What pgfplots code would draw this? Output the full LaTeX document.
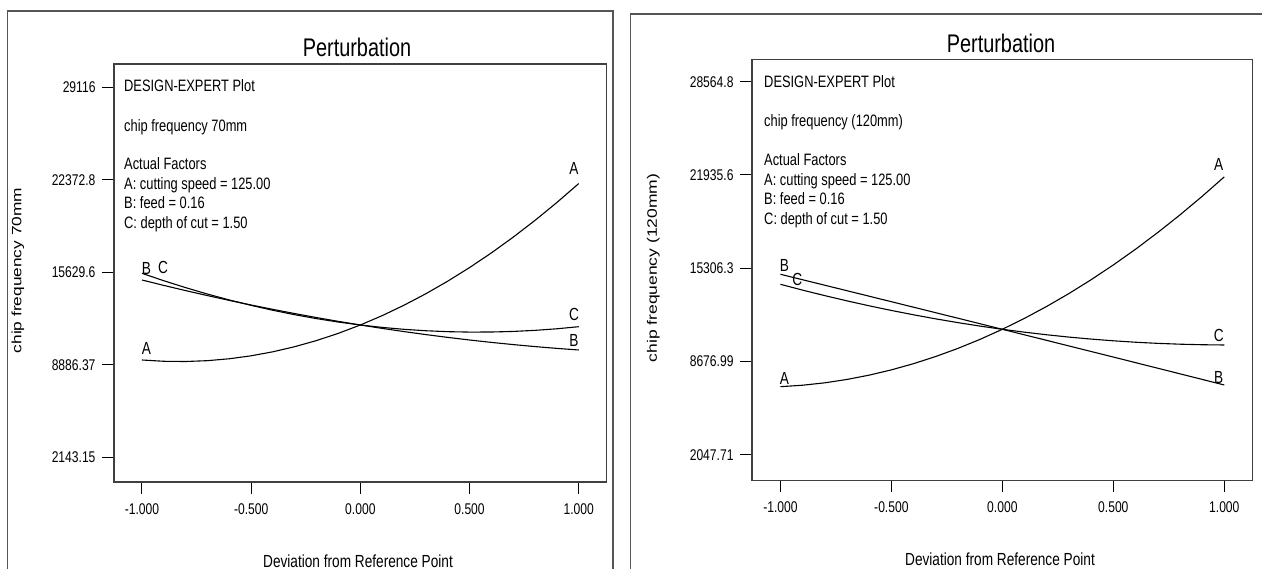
\documentclass[border=0pt]{standalone}
\usepackage{graphicx}
\usepackage{pgfplots}
\pgfplotsset{compat=1.18}
\usepackage{fontspec}
\setmainfont{Liberation Sans}[FakeStretch=0.78]
\newfontfamily\plainfont{Liberation Sans}
\newcommand{\fs}[1]{\fontsize{#1bp}{#1bp}\selectfont}
\definecolor{boxgray}{HTML}{404040}
\definecolor{framegray}{HTML}{555555}

\pgfplotsset{
  pert/.style={
    anchor=south west, scale only axis,
    xmin=-1.128, xmax=1.128,
    axis line style={draw=boxgray, line width=1.4bp},
    tick align=outside, xtick pos=bottom, ytick pos=left,
    major tick length=12bp,
    tick style={black, line width=1bp},
    ticklabel style={font=\fs{15.5}, black},
    yticklabel style={xshift=-3bp},
    xticklabel style={yshift=-6bp},
    xtick={-1,-0.5,0,0.5,1},
    xticklabels={-1.000,-0.500,0.000,0.500,1.000},
    scaled y ticks=false,
    clip=false,
  },
  curve/.style={black, line width=1.1bp, mark=none},
}

\begin{document}
\begin{tikzpicture}
\path[use as bounding box] (0bp,0bp) rectangle (1262bp,569bp);

% ---------- left panel ----------
\begin{axis}[pert, at={(114bp,87bp)}, width=492.7bp, height=418bp,
  ymin=342, ymax=30815,
  ytick={2143.15,8886.37,15629.6,22372.8,29116},
  yticklabels={2143.15,8886.37,15629.6,22372.8,29116}]
\addplot[curve] coordinates {(-1,9236)(-0.9,9142)(-0.8,9126)(-0.7,9187)(-0.6,9326)(-0.5,9542)(-0.4,9836)(-0.3,10208)(-0.2,10657)(-0.1,11184)(0,11788)(0.1,12470)(0.2,13230)(0.3,14067)(0.4,14982)(0.5,15974)(0.6,17044)(0.7,18192)(0.8,19417)(0.9,20720)(1,22100)};
\addplot[curve] coordinates {(-1,15068)(-0.9,14674)(-0.8,14295)(-0.7,13931)(-0.6,13581)(-0.5,13246)(-0.4,12925)(-0.3,12619)(-0.2,12327)(-0.1,12050)(0,11788)(0.1,11540)(0.2,11307)(0.3,11088)(0.4,10884)(0.5,10694)(0.6,10519)(0.7,10359)(0.8,10213)(0.9,10082)(1,9965)};
\addplot[curve] coordinates {(-1,15556)(-0.9,15015)(-0.8,14511)(-0.7,14043)(-0.6,13612)(-0.5,13217)(-0.4,12858)(-0.3,12536)(-0.2,12250)(-0.1,12001)(0,11788)(0.1,11612)(0.2,11472)(0.3,11368)(0.4,11301)(0.5,11271)(0.6,11276)(0.7,11319)(0.8,11397)(0.9,11512)(1,11664)};
\end{axis}

% ---------- right panel ----------
\begin{axis}[pert, at={(752bp,88.7bp)}, width=500.7bp, height=421bp,
  ymin=228, ymax=30157,
  ytick={2047.71,8676.99,15306.3,21935.6,28564.8},
  yticklabels={2047.71,8676.99,15306.3,21935.6,28564.8}]
\addplot[curve] coordinates {(-1,6883)(-0.9,6987)(-0.8,7158)(-0.7,7398)(-0.6,7704)(-0.5,8078)(-0.4,8520)(-0.3,9030)(-0.2,9606)(-0.1,10251)(0,10963)(0.1,11743)(0.2,12590)(0.3,13505)(0.4,14487)(0.5,15537)(0.6,16654)(0.7,17839)(0.8,19092)(0.9,20412)(1,21800)};
\addplot[curve] coordinates {(-1,14873)(-0.9,14484)(-0.8,14095)(-0.7,13705)(-0.6,13315)(-0.5,12924)(-0.4,12533)(-0.3,12141)(-0.2,11749)(-0.1,11356)(0,10963)(0.1,10569)(0.2,10175)(0.3,9780)(0.4,9385)(0.5,8989)(0.6,8593)(0.7,8196)(0.8,7799)(0.9,7401)(1,7003)};
\addplot[curve] coordinates {(-1,14162)(-0.9,13748)(-0.8,13356)(-0.7,12984)(-0.6,12632)(-0.5,12302)(-0.4,11993)(-0.3,11704)(-0.2,11436)(-0.1,11189)(0,10963)(0.1,10758)(0.2,10573)(0.3,10409)(0.4,10267)(0.5,10145)(0.6,10043)(0.7,9963)(0.8,9904)(0.9,9865)(1,9847)};
\end{axis}

% ---------- outer frames ----------
\draw[framegray, line width=1.5bp] (7.3bp,-2bp) -- (7.3bp,558bp) -- (613bp,558bp) -- (613bp,-2bp);
\draw[framegray, line width=1.5bp] (630.7bp,-2bp) -- (630.7bp,555bp) -- (1264bp,555bp);

% ---------- titles and axis labels ----------
\node[font=\fs{25.5}, inner sep=0pt] at (357bp,522bp) {Perturbation};
\node[font=\fs{25.5}, inner sep=0pt] at (1001bp,526bp) {Perturbation};
\node[font=\fs{17.5}, inner sep=0pt] at (358bp,8bp) {Deviation from Reference Point};
\node[font=\fs{17.5}, inner sep=0pt] at (1000bp,10bp) {Deviation from Reference Point};
\node[inner sep=0pt, rotate=90] at (18bp,298.5bp) {\scalebox{1}[0.78]{\plainfont\fs{17.3}chip frequency 70mm}};
\node[inner sep=0pt, rotate=90] at (653.4bp,301bp) {\scalebox{1}[0.78]{\plainfont\fs{17.5}chip frequency (120mm)}};

% ---------- annotation text ----------
\begin{scope}[every node/.style={font=\fs{16.5}, inner sep=0pt, anchor=base west}]
\node at (124bp,477bp) {DESIGN-EXPERT Plot};
\node at (124bp,437.5bp) {chip frequency 70mm};
\node at (124bp,399bp) {Actual Factors};
\node at (124bp,379.4bp) {A: cutting speed = 125.00};
\node at (124bp,360bp) {B: feed = 0.16};
\node at (124bp,340.8bp) {C: depth of cut = 1.50};
\node at (764bp,481.7bp) {DESIGN-EXPERT Plot};
\node at (764bp,442.6bp) {chip frequency (120mm)};
\node at (764bp,403bp) {Actual Factors};
\node at (764bp,383.4bp) {A: cutting speed = 125.00};
\node at (764bp,364bp) {B: feed = 0.16};
\node at (764bp,344bp) {C: depth of cut = 1.50};
\end{scope}

% ---------- curve labels ----------
\begin{scope}[every node/.style={font=\fs{17.5}, inner sep=0pt, anchor=center}]
\node at (574bp,400.5bp) {A};
\node at (574bp,254.5bp) {C};
\node at (574bp,229bp) {B};
\node at (146.5bp,220.5bp) {A};
\node at (146.5bp,301bp) {B};
\node at (163bp,301.6bp) {C};
\node at (1218.7bp,405bp) {A};
\node at (1218.7bp,234bp) {C};
\node at (1218.7bp,192bp) {B};
\node at (784.4bp,190.5bp) {A};
\node at (784.4bp,304bp) {B};
\node at (797.3bp,289.4bp) {C};
\end{scope}
\end{tikzpicture}
\end{document}
